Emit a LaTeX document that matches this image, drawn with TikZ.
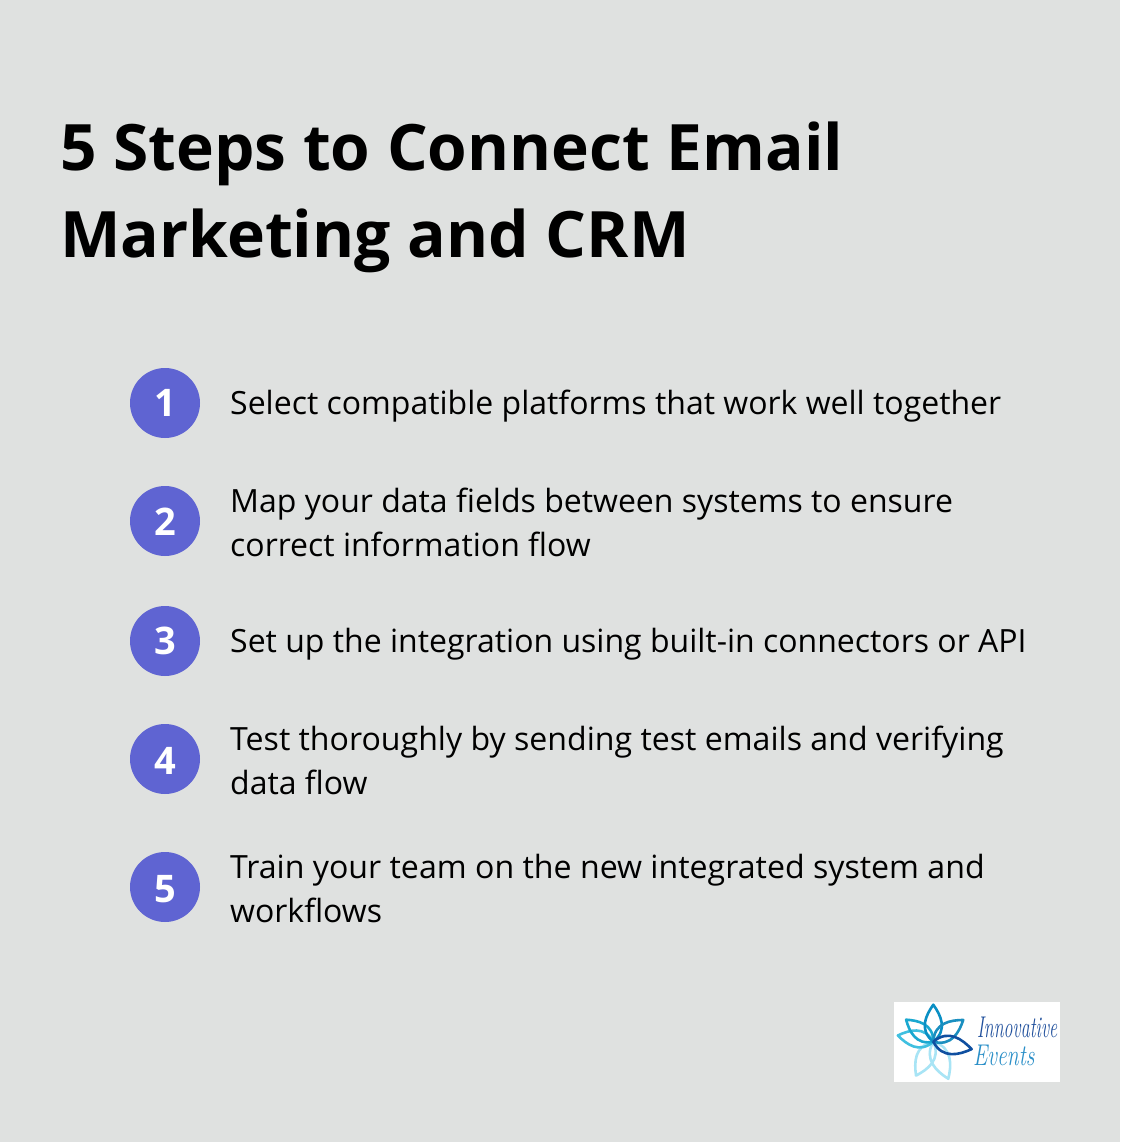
\documentclass[tikz,border=0pt]{standalone}
\usepackage{fontspec}
\setmainfont{Open Sans}
\newfontfamily\logofont{Latin Modern Roman}
\definecolor{bgc}{HTML}{DFE1E0}
\definecolor{circ}{HTML}{5F64D2}
\definecolor{pA}{HTML}{0A8FC4}
\definecolor{pB}{HTML}{1A8FC0}
\definecolor{pC}{HTML}{0F4FA0}
\definecolor{pD}{HTML}{A8E4F5}
\definecolor{pE}{HTML}{40C0E0}
\definecolor{pF}{HTML}{1AA8D0}
\definecolor{lgA}{HTML}{1F4F9C}
\definecolor{lgB}{HTML}{2A8FC8}
\tikzset{
  titletext/.style={anchor=base west,inner sep=0pt,font=\fontsize{64}{64}\selectfont\bfseries,text=black,transform shape},
  bodytext/.style={anchor=base west,inner sep=0pt,font=\fontsize{32}{32}\selectfont,text=black,transform shape},
  numdot/.style={circle,fill=circ,draw=none,minimum size=70pt,inner sep=0pt},
  numtext/.style={anchor=base,inner sep=0pt,text=white,font=\fontsize{38}{38}\selectfont\bfseries},
  logotext/.style={anchor=base west,inner sep=0pt,font=\fontsize{30}{30}\selectfont\logofont\itshape,transform shape},
  petal/.style={line width=2.6pt,line join=round}
}
\newcommand{\petalshape}[3]{%
  \draw[petal,draw=#1,shift={(933.3,1041.7)},rotate=#2]
    (0,0) .. controls (0.32*#3,0.40*#3) and (0.72*#3,0.20*#3) .. (#3,0)
          .. controls (0.72*#3,-0.20*#3) and (0.32*#3,-0.40*#3) .. (0,0) -- cycle;}
\begin{document}
\begin{tikzpicture}[x=1pt,y=-1pt]
\useasboundingbox (0,0) rectangle (1120,1142);
\fill[bgc] (0,0) rectangle (1120,1142);
\node[titletext] (t1) at (60,171) {5 Steps to Connect Email};
\node[titletext,xscale=1.003] (t2) at (60,257) {Marketing and CRM};
\node[numdot] (n1) at (165,403) {};
\node[numdot] (n2) at (165,521) {};
\node[numdot] (n3) at (165,641) {};
\node[numdot] (n4) at (165,759) {};
\node[numdot] (n5) at (165,887) {};
\node[numtext] (d1) at (165,416.5) {1};
\node[numtext] (d2) at (165,535.5) {2};
\node[numtext] (d3) at (165,654.5) {3};
\node[numtext] (d4) at (165,774) {4};
\node[numtext] (d5) at (165,902) {5};
\node[bodytext] (a1) at (230,414) {Select compatible platforms that work well together};
\node[bodytext] (a2) at (230,512) {Map your data fields between systems to ensure};
\node[bodytext] (a2b) at (230,556) {correct information flow};
\node[bodytext] (a3) at (230,652) {Set up the integration using built-in connectors or API};
\node[bodytext,xscale=1.003] (a4) at (230,750) {Test thoroughly by sending test emails and verifying};
\node[bodytext] (a4b) at (230,794) {data flow};
\node[bodytext,xscale=1.004] (a5) at (230,878) {Train your team on the new integrated system and};
\node[bodytext] (a5b) at (230,922) {workflows};
\fill[white] (894,1002) rectangle (1060,1082);
\petalshape{pD}{-68}{40}
\petalshape{pD}{-117}{38}
\petalshape{pE}{170}{36}
\petalshape{pF}{141}{35}
\petalshape{pA}{90}{37}
\petalshape{pB}{36}{37}
\petalshape{pC}{-11}{39}
\node[logotext,text=lgA,xscale=0.6] (l1) at (977,1037) {Innovative};
\node[logotext,text=lgB,xscale=0.72] (l2) at (973,1065) {Events};
\end{tikzpicture}
\end{document}
